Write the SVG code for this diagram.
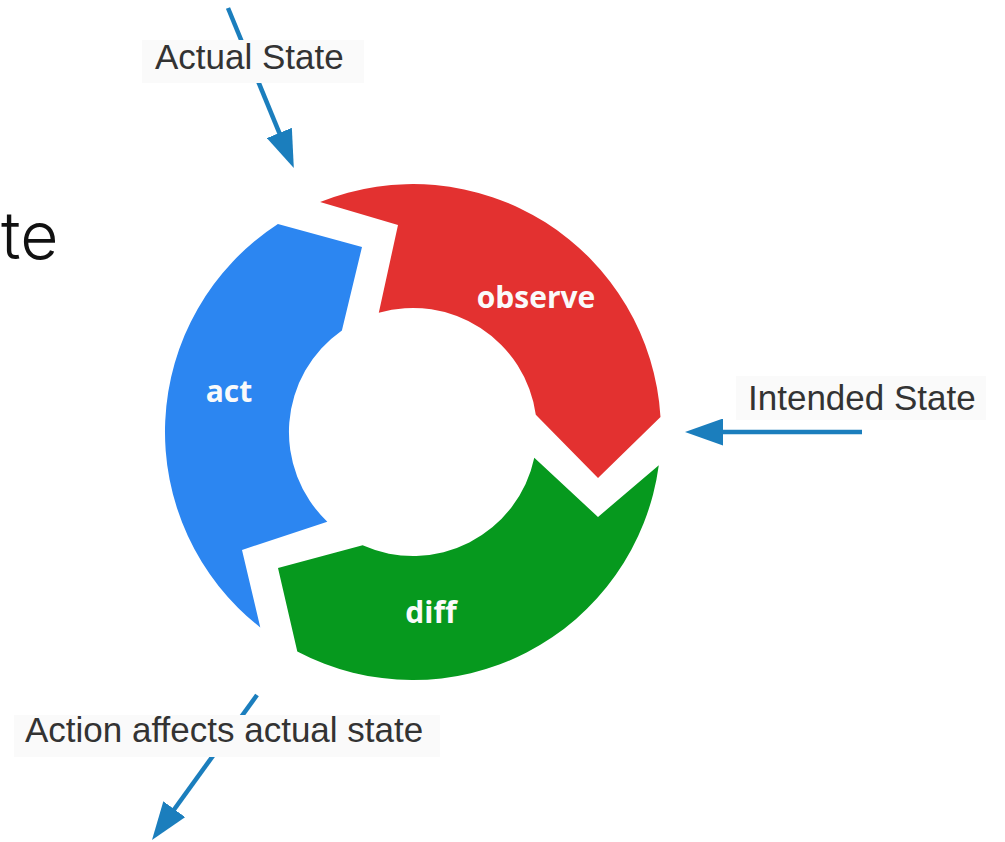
<svg xmlns="http://www.w3.org/2000/svg" width="1005" height="842" viewBox="0 0 1005 842">
  <style>
    .seg-label { font-family: "Open Sans", "Liberation Sans", sans-serif; font-weight: 700; font-size: 30px; fill: #FAFAFA; text-anchor: middle; }
    .state-label { font-family: "Liberation Sans", Arial, sans-serif; font-size: 35px; fill: #333333; }
    .label-bg { fill: #FAFAFA; }
    .flow { stroke: #1B7EBD; stroke-width: 4.5; fill: none; marker-end: url(#head); }
  </style>
  <defs>
    <marker id="head" markerUnits="userSpaceOnUse" viewBox="0 0 38 27" markerWidth="38" markerHeight="27" refX="8" refY="13.5" orient="auto">
      <path d="M0,0 L38,13.5 L0,27 Z" fill="#1B7EBD"/>
    </marker>
  </defs>

  <rect width="1005" height="842" fill="#FFFFFF"/>

  <!-- partial heading at the left edge -->
  <text x="1" y="259" font-family="Inter, 'Noto Sans', sans-serif" font-weight="300" font-size="66" fill="#111111">te</text>

  <!-- connectors: state flows in and out of the loop -->
  <g id="connectors">
    <line class="flow" x1="228" y1="8" x2="282.4" y2="140.3"/>
    <line class="flow" x1="862" y1="432" x2="715" y2="432"/>
    <line class="flow" x1="257" y1="695" x2="169.6" y2="815.7"/>
  </g>

  <!-- control loop, centre (413,432), outer r 248, inner r 124 -->
  <g id="observe">
    <path d="M320.1,202.1 A248,248 0 0 1 660.5,416.9 L598,478 L535.8,414.7 A124,124 0 0 0 378.8,312.8 L398,225 Z" fill="#E33130"/>
    <text class="seg-label" x="536" y="308">observe</text>
  </g>
  <g id="diff">
    <path d="M658.8,465.2 A248,248 0 0 1 297.3,651.4 L278,568 L362.6,545.3 A124,124 0 0 0 534.3,457.8 L598,517 Z" fill="#06991E"/>
    <text class="seg-label" x="431" y="623">diff</text>
  </g>
  <g id="act">
    <path d="M260.3,627.4 A248,248 0 0 1 277.9,224 L362,247 L341.9,330.4 A124,124 0 0 0 327.3,521.7 L242,550 Z" fill="#2C86F1"/>
    <text class="seg-label" x="229" y="402">act</text>
  </g>

  <!-- state labels -->
  <g id="actual-state">
    <rect class="label-bg" x="142" y="40" width="222" height="43"/>
    <text class="state-label" x="155" y="69">Actual State</text>
  </g>
  <g id="intended-state">
    <rect class="label-bg" x="736" y="376" width="250" height="44"/>
    <text class="state-label" x="748" y="410">Intended State</text>
  </g>
  <g id="action-effect">
    <rect class="label-bg" x="14" y="715" width="426" height="42"/>
    <text class="state-label" x="25" y="742">Action affects actual state</text>
  </g>
</svg>
